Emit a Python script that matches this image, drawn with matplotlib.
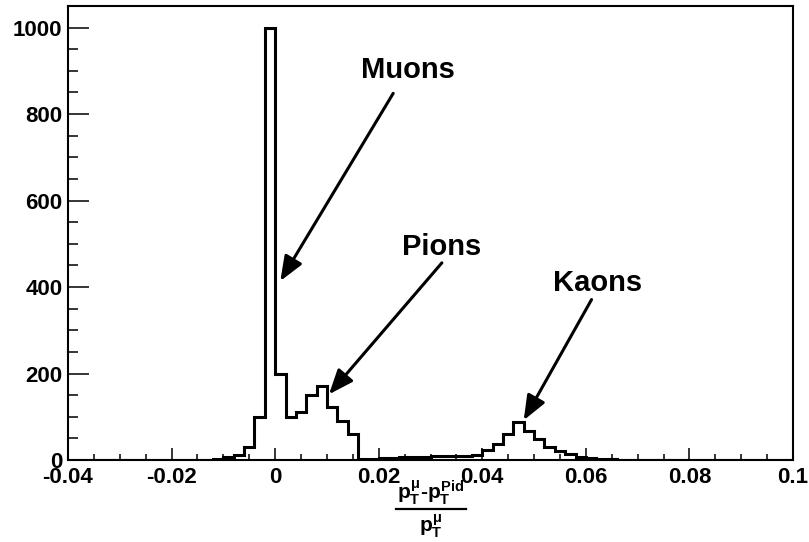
import numpy as np
import matplotlib
matplotlib.use("Agg")
import matplotlib.pyplot as plt
from matplotlib.lines import Line2D
from matplotlib.ticker import FixedLocator, MultipleLocator

plt.rcParams["font.family"] = ["Liberation Sans", "DejaVu Sans"]
plt.rcParams["font.weight"] = "bold"
plt.rcParams["mathtext.fontset"] = "custom"
plt.rcParams["mathtext.rm"] = "Liberation Sans:bold"
plt.rcParams["mathtext.it"] = "Liberation Sans:bold"
plt.rcParams["mathtext.bf"] = "Liberation Sans:bold"

# Histogram binning: 70 bins of width 0.002 between -0.04 and 0.1
x_min, x_max, n_bins = -0.04, 0.1, 70

counts = [
    0, 0, 0, 0, 0, 0, 0, 0, 0, 0,          # -0.040 .. -0.020
    0, 0, 1, 1, 3, 6, 11, 31, 100, 1000,   # -0.020 ..  0.000
    200, 100, 110, 150, 170, 122, 90, 60, 3, 3,   # 0.000 .. 0.020
    4, 5, 6, 7, 8, 9, 9, 9, 10, 12,        # 0.020 .. 0.040
    22, 38, 60, 88, 68, 48, 31, 21, 13, 8, # 0.040 .. 0.060
    5, 3, 2, 1, 0, 0, 0, 0, 0, 0,          # 0.060 .. 0.080
    0, 0, 0, 0, 0, 0, 0, 0, 0, 0,          # 0.080 .. 0.100
]

x_ticks = [-0.04, -0.02, 0.0, 0.02, 0.04, 0.06, 0.08, 0.1]
x_tick_labels = ["-0.04", "-0.02", "0", "0.02", "0.04", "0.06", "0.08", "0.1"]
y_ticks = [0, 200, 400, 600, 800, 1000]
y_tick_labels = ["0", "200", "400", "600", "800", "1000"]

# Particle labels: (text, text position, arrow tail, arrow tip) in data units
labels = [
    ("Muons", (0.0165, 883), (0.0228, 848), (0.0010, 414)),
    ("Pions", (0.0245, 474), (0.0322, 456), (0.0104, 152)),
    ("Kaons", (0.0537, 391), (0.0611, 371), (0.0480, 92)),
]

# Axis title drawn as a stacked fraction
title_num = r"$p_T^{\mu}$-$p_T^{Pid}$"
title_den = r"$p_T^{\mu}$"

edges = np.linspace(x_min, x_max, n_bins + 1)

W, H = 809, 542
fig = plt.figure(figsize=(W / 100, H / 100), dpi=100)
ax = fig.add_axes([68 / W, 82 / H, (793 - 68) / W, (460 - 6) / H])

ax.stairs(counts, edges, color="black", lw=2.2, baseline=0, zorder=3)

ax.set_xlim(x_min, x_max)
ax.set_ylim(0, 1050)

ax.xaxis.set_major_locator(FixedLocator(x_ticks))
ax.set_xticklabels(x_tick_labels)
ax.xaxis.set_minor_locator(MultipleLocator(0.005))
ax.yaxis.set_major_locator(FixedLocator(y_ticks))
ax.set_yticklabels(y_tick_labels)
ax.yaxis.set_minor_locator(MultipleLocator(50))

ax.tick_params(axis="x", which="major", direction="in", length=9, width=1.1,
               labelsize=16, pad=5, top=False)
ax.tick_params(axis="x", which="minor", direction="in", length=4.5, width=1.1,
               top=False)
ax.tick_params(axis="y", which="major", direction="in", length=15, width=1.1,
               labelsize=16, pad=4, right=False)
ax.tick_params(axis="y", which="minor", direction="in", length=7.5, width=1.1,
               right=False)
for lab in ax.get_xticklabels() + ax.get_yticklabels():
    lab.set_fontweight("bold")

for side in ax.spines.values():
    side.set_linewidth(1.5)

for text, tpos, tail, tip in labels:
    ax.text(tpos[0], tpos[1], text, fontsize=21, fontweight="bold",
            ha="left", va="baseline")
    ax.annotate("", xy=tip, xytext=tail,
                arrowprops=dict(arrowstyle="-|>,head_length=1.0,head_width=0.4",
                                lw=2.2, color="black", mutation_scale=15,
                                shrinkA=0, shrinkB=0))

# x-axis title: numerator, fraction bar, denominator centred under the axis
xc = (68 + 793) / 2 / W
fig.text(xc, (H - 507) / H, title_num, fontsize=15, ha="center", va="bottom")
fig.add_artist(Line2D([396 / W, 466 / W], [(H - 509) / H] * 2,
                      color="black", lw=1.6, transform=fig.transFigure))
fig.text(xc, (H - 512) / H, title_den, fontsize=15, ha="center", va="top")

fig.savefig("out.png", dpi=100)
